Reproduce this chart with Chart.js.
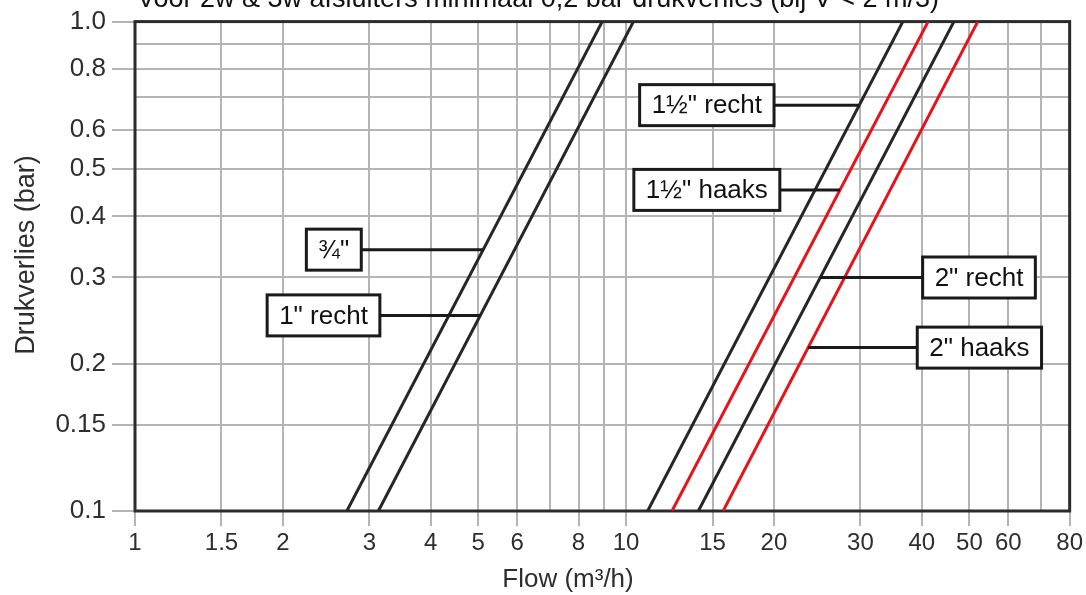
<!DOCTYPE html>
<html>
<head>
<meta charset="utf-8">
<script src="https://cdn.jsdelivr.net/npm/chart.js@4.4.1/dist/chart.umd.min.js"></script>
<style>
  html, body { margin: 0; padding: 0; background: #ffffff; }
  #wrap { width: 1086px; height: 595px; position: relative; }
</style>
</head>
<body>
<div id="wrap"><canvas id="c" width="1086" height="595"></canvas></div>
<script>
// ---- data ----
const TITLE = 'Voor 2w & 3w afsluiters minimaal 0,2 bar drukverlies (bij V\u0307 < 2 m/3)';
const X_TITLE = 'Flow (m\u00B3/h)';
const Y_TITLE = 'Drukverlies (bar)';

const SERIES_NAMES = ['\u00BE"', '1" recht', '1\u00BD" recht', '1\u00BD" haaks', '2" recht', '2" haaks'];
const PRESSURE = [0.1, 1.0];                 // bar, end points of each line
const FLOW_34_RECHT   = [2.70, 8.94];        // m3/h at 0.1 and 1.0 bar
const FLOW_1_RECHT    = [3.13, 10.35];
const FLOW_112_RECHT  = [11.06, 36.6];
const FLOW_112_HAAKS  = [12.40, 41.2];
const FLOW_2_RECHT    = [14.03, 46.5];
const FLOW_2_HAAKS    = [15.76, 52.0];
const SERIES_COLORS = ['#262626', '#262626', '#262626', '#e3141b', '#262626', '#e3141b'];

// label callouts: pressure where the leader meets the line, flow at box centre
const LABEL_PRESSURE = [0.342, 0.251, 0.675, 0.453, 0.300, 0.2157];
const LABEL_BOX_FLOW = [2.54, 2.42, 14.6, 14.6, 52.3, 52.4];

const X_GRID = [1, 1.5, 2, 3, 4, 5, 6, 7, 8, 9, 10, 15, 20, 30, 40, 50, 60, 70, 80];
const X_LABELS = [1, 1.5, 2, 3, 4, 5, 6, 8, 10, 15, 20, 30, 40, 50, 60, 80];
const Y_GRID = [0.1, 0.15, 0.2, 0.3, 0.4, 0.5, 0.6, 0.7, 0.8, 0.9, 1.0];
const Y_LABELS = [0.1, 0.15, 0.2, 0.3, 0.4, 0.5, 0.6, 0.8, 1.0];

const FLOWS = [FLOW_34_RECHT, FLOW_1_RECHT, FLOW_112_RECHT, FLOW_112_HAAKS, FLOW_2_RECHT, FLOW_2_HAAKS];

// ---- styles ----
const FONT = '"Liberation Sans", Arial, Helvetica, sans-serif';
const GRID_COLOR = '#b4b4b4';
const FRAME_COLOR = '#2b2b2b';
const TEXT_COLOR = '#2e2e2e';

const datasets = FLOWS.map((f, i) => ({
  label: SERIES_NAMES[i],
  data: f.map((x, k) => ({ x: x, y: PRESSURE[k] })),
  borderColor: SERIES_COLORS[i],
  backgroundColor: SERIES_COLORS[i],
  borderWidth: 3,
  pointRadius: 0,
  showLine: true,
  tension: 0
}));

function inList(list, v) { return list.some(t => Math.abs(t - v) < 1e-9); }

const framePlugin = {
  id: 'frame',
  beforeDatasetsDraw(chart) {
    const { ctx, chartArea: a } = chart;
    ctx.save();
    ctx.strokeStyle = FRAME_COLOR;
    ctx.lineWidth = 3;
    ctx.strokeRect(a.left, a.top, a.right - a.left, a.bottom - a.top);
    ctx.restore();
  }
};

const textPlugin = {
  id: 'texts',
  afterDraw(chart) {
    const { ctx, chartArea: a } = chart;
    ctx.save();
    ctx.fillStyle = '#111';
    // clipped title at the very top
    ctx.font = '27px ' + FONT;
    ctx.textAlign = 'left';
    ctx.textBaseline = 'alphabetic';
    ctx.fillText(TITLE, a.left + 2, 7);
    // x axis title
    ctx.fillStyle = TEXT_COLOR;
    ctx.font = '26px ' + FONT;
    ctx.textAlign = 'center';
    ctx.textBaseline = 'middle';
    ctx.fillText(X_TITLE, 568, 580);
    // y axis title
    ctx.font = '27px ' + FONT;
    ctx.translate(27, 255);
    ctx.rotate(-Math.PI / 2);
    ctx.fillText(Y_TITLE, 0, 0);
    ctx.restore();
  }
};

const calloutPlugin = {
  id: 'callouts',
  afterDatasetsDraw(chart) {
    const { ctx } = chart;
    const xs = chart.scales.x, ys = chart.scales.y;
    ctx.save();
    ctx.font = '26px ' + FONT;
    ctx.textBaseline = 'middle';
    ctx.textAlign = 'center';
    FLOWS.forEach((f, i) => {
      const p = LABEL_PRESSURE[i];
      const t = Math.log10(p / PRESSURE[0]) / Math.log10(PRESSURE[1] / PRESSURE[0]);
      const lx = Math.pow(10, Math.log10(f[0]) + t * (Math.log10(f[1]) - Math.log10(f[0])));
      const px = xs.getPixelForValue(lx);
      const py = ys.getPixelForValue(p);
      const bx = xs.getPixelForValue(LABEL_BOX_FLOW[i]);
      const w = ctx.measureText(SERIES_NAMES[i]).width + 24;
      const h = 41;
      const edge = bx < px ? bx + w / 2 : bx - w / 2;
      ctx.strokeStyle = '#1a1a1a';
      ctx.lineWidth = 3;
      ctx.beginPath();
      ctx.moveTo(edge, py);
      ctx.lineTo(px, py);
      ctx.stroke();
      ctx.fillStyle = '#ffffff';
      ctx.fillRect(bx - w / 2, py - h / 2, w, h);
      ctx.strokeRect(bx - w / 2, py - h / 2, w, h);
      ctx.fillStyle = '#111';
      ctx.fillText(SERIES_NAMES[i], bx, py + 1);
    });
    ctx.restore();
  }
};

new Chart(document.getElementById('c'), {
  type: 'scatter',
  data: { datasets: datasets },
  options: {
    responsive: false,
    animation: false,
    devicePixelRatio: 1,
    layout: { padding: { top: 18, right: 15, left: 0, bottom: 0 } },
    plugins: { legend: { display: false }, tooltip: { enabled: false }, title: { display: false } },
    scales: {
      x: {
        type: 'logarithmic',
        min: 1, max: 80,
        afterBuildTicks(scale) { scale.ticks = X_GRID.map(v => ({ value: v })); },
        afterFit(scale) { scale.height = 84; },
        border: { display: false },
        grid: {
          color: GRID_COLOR, lineWidth: 2, tickLength: 15, drawOnChartArea: true,
          tickColor: ctx => (ctx.tick && inList(X_LABELS, ctx.tick.value)) ? GRID_COLOR : 'rgba(0,0,0,0)'
        },
        ticks: {
          autoSkip: false, maxRotation: 0, minRotation: 0, padding: 3,
          color: TEXT_COLOR, font: { family: FONT, size: 24 },
          callback: (v) => inList(X_LABELS, v) ? String(v) : ''
        }
      },
      y: {
        type: 'logarithmic',
        min: 0.1, max: 1.0,
        afterBuildTicks(scale) { scale.ticks = Y_GRID.map(v => ({ value: v })); },
        afterFit(scale) { scale.width = 135; },
        border: { display: false },
        grid: {
          color: GRID_COLOR, lineWidth: 2, tickLength: 23,
          tickColor: ctx => (ctx.tick && inList(Y_LABELS, ctx.tick.value)) ? GRID_COLOR : 'rgba(0,0,0,0)'
        },
        ticks: {
          autoSkip: false, padding: 6,
          color: TEXT_COLOR, font: { family: FONT, size: 26 },
          callback: (v) => inList(Y_LABELS, v) ? (v === 1 ? '1.0' : String(v)) : ''
        }
      }
    }
  },
  plugins: [framePlugin, calloutPlugin, textPlugin]
});
</script>
</body>
</html>
